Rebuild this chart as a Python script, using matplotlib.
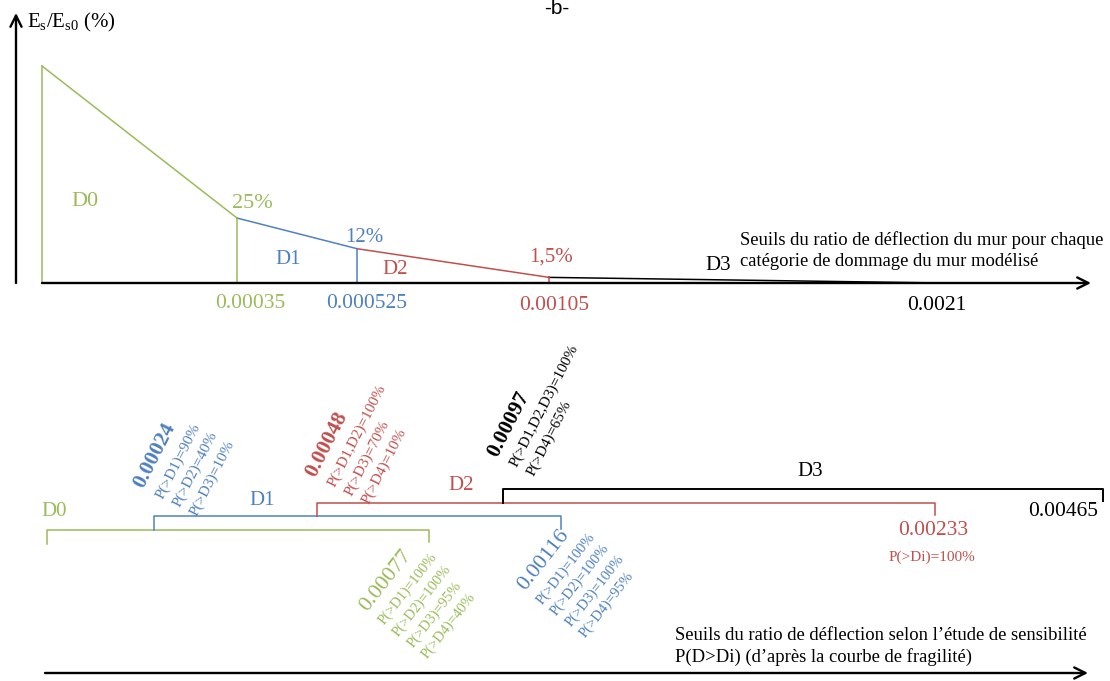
import numpy as np
import matplotlib
matplotlib.use('Agg')
import matplotlib.pyplot as plt

plt.rcParams['font.family'] = ['Liberation Serif', 'DejaVu Serif']
plt.rcParams['mathtext.fontset'] = 'custom'
plt.rcParams['mathtext.rm'] = 'Liberation Serif'
plt.rcParams['mathtext.it'] = 'Liberation Serif:italic'

GREEN, BLUE, RED, BLACK = '#9BBB59', '#4F81BD', '#C0504D', 'black'
class_colors = [GREEN, BLUE, RED, BLACK]
classes = ['D0', 'D1', 'D2', 'D3']

# upper diagram: E_s/E_s0 against wall deflection-ratio thresholds
wall_thresholds = ['0', '0.00035', '0.000525', '0.00105', '0.0021']
stiffness_pct = [100, 25, 12, 1.5, 0]
stiffness_labels = ['', '25%', '12%', '1,5%', '']

# lower diagram: thresholds from the sensitivity study
sens_start = ['0', '0.00024', '0.00048', '0.00097']
sens_end = ['0.00077', '0.00116', '0.00233', '0.00465']
start_probs = [[],
               ['P(>D1)=90%', 'P(>D2)=40%', 'P(>D3)=10%'],
               ['P(>D1,D2)=100%', 'P(>D3)=70%', 'P(>D4)=10%'],
               ['P(>D1,D2,D3)=100%', 'P(>D4)=65%']]
end_probs = [['P(>D1)=100%', 'P(>D2)=100%', 'P(>D3)=95%', 'P(>D4)=40%'],
             ['P(>D1)=100%', 'P(>D2)=100%', 'P(>D3)=100%', 'P(>D4)=95%'],
             ['P(>Di)=100%'],
             []]

# schematic layout (the diagram is not drawn to scale)
W, H = 1110, 681
wall_x = [42, 237, 357, 549, 941]
sens_x0 = [47, 154, 317, 503]
sens_x1 = [429, 561, 935, 1103]

fig = plt.figure(figsize=(W / 100, H / 100), dpi=100)

# ---------------- top panel ----------------
TOP_H = 320
ax = fig.add_axes([0, 1 - TOP_H / H, 1, TOP_H / H])
ax.set_axis_off()
ax.set_xlim(0, W)
P = 0.87
fwd = lambda y: np.sign(y) * np.abs(y) ** P
inv = lambda y: np.sign(y) * np.abs(y) ** (1 / P)
ax.set_yscale('function', functions=(fwd, inv))
k = 217 / 100 ** P
ax.set_ylim(inv(-(TOP_H - 283) / k), inv(283 / k))

lw = 1.1
for i in range(4):
    ax.plot(wall_x[i:i + 2], stiffness_pct[i:i + 2], color=class_colors[i], lw=lw)
ax.plot([wall_x[0], wall_x[0]], [0, stiffness_pct[0]], color=GREEN, lw=lw)
for i in range(1, 4):
    ax.plot([wall_x[i], wall_x[i]], [0, stiffness_pct[i]], color=class_colors[i - 1], lw=lw)

arrow = dict(arrowstyle='->,head_length=0.8,head_width=0.4', lw=1.7, color='black',
             shrinkA=0, shrinkB=0)
ax.annotate('', xy=(1091, 0), xytext=(wall_x[0], 0), arrowprops=arrow)
ax.annotate('', xy=(16, 1 - 13 / TOP_H), xycoords=('data', 'axes fraction'),
            xytext=(16, 1 - 283 / TOP_H), textcoords=('data', 'axes fraction'),
            arrowprops=arrow)
fig.text(27 / W, 1 - 22 / H, r'E$_\mathrm{s}$/E$_\mathrm{s0}$ (%)', fontsize=15,
         ha='left', va='center')
fig.text(557 / W, 1 - 14 / H, '-b-', fontsize=15, family='Liberation Sans',
         ha='center', va='baseline')

pct_off = [None, (15, 15), (7, 11), (2, 20)]
for i in range(1, 4):
    ax.annotate(stiffness_labels[i], xy=(wall_x[i], stiffness_pct[i]), xytext=pct_off[i],
                textcoords='offset pixels', ha='center', va='center',
                fontsize=16 if i == 1 else 15, color=class_colors[i - 1])

cls_off = [(43, 81), (51, 24), (38, 14), (169, 17)]
for i in range(4):
    ax.annotate(classes[i], xy=(wall_x[i], 0), xytext=cls_off[i], textcoords='offset pixels',
                ha='center', va='center', fontsize=16 if i == 0 else 15,
                color=class_colors[i])

thr_off = [None, (13, -20), (10, -20), (5, -22), (-4, -22)]
for i in range(1, 5):
    ax.annotate(wall_thresholds[i], xy=(wall_x[i], 0), xytext=thr_off[i],
                textcoords='offset pixels', ha='center', va='center', fontsize=15.5,
                color=class_colors[i - 1])

fig.text(740 / W, 1 - 240 / H, 'Seuils du ratio de déflection du mur pour chaque',
         fontsize=13.4, ha='left', va='center')
fig.text(740 / W, 1 - 262 / H, 'catégorie de dommage du mur modélisé',
         fontsize=13.4, ha='left', va='center')

# ---------------- bottom panel ----------------
BOT_H = H - TOP_H
ax2 = fig.add_axes([0, 0, 1, BOT_H / H])
ax2.set_axis_off()
ax2.set_xlim(0, W)
s = 13.67
ax2.set_ylim(-(H - 530) / s, (530 - TOP_H) / s)

for i in range(4):
    ax2.plot([sens_x0[i], sens_x0[i], sens_x1[i], sens_x1[i]], [i - 1, i, i, i - 0.9],
             color=class_colors[i], lw=1.4 if i == 3 else lw)

ax2.annotate('', xy=(1088, 8 / BOT_H), xycoords=('data', 'axes fraction'),
             xytext=(45, 8 / BOT_H), textcoords=('data', 'axes fraction'), arrowprops=arrow)

lab_off = [(7, 19), (108, 16), (144, 17), (307, 17)]
for i in range(4):
    ax2.annotate(classes[i], xy=(sens_x0[i], i), xytext=lab_off[i], textcoords='offset pixels',
                 ha='center', va='center', fontsize=15, color=class_colors[i])


def rotated_block(axis, xy, value, lines, color, angle, off, vsize, vweight, lsize,
                  gap=22, step=19):
    ux, uy = np.sin(np.radians(angle)), -np.cos(np.radians(angle))
    axis.annotate(value, xy=xy, xytext=off, textcoords='offset pixels', rotation=angle,
                  rotation_mode='anchor', ha='left', va='baseline', fontsize=vsize,
                  fontweight=vweight, color=color)
    for j, txt in enumerate(lines):
        d = gap + j * step
        axis.annotate(txt, xy=xy, xytext=(off[0] + d * ux, off[1] + d * uy),
                      textcoords='offset pixels', rotation=angle, rotation_mode='anchor',
                      ha='left', va='baseline', fontsize=lsize, color=color)


start_off = [None, (-11, 27), (-2, 25), (-6, 31)]
for i in range(1, 4):
    rotated_block(ax2, (sens_x0[i], i), sens_start[i], start_probs[i], class_colors[i],
                  63, start_off[i], 15.5, 'bold', 11)

end_off = [(-62, -82), (-36, -75)]
for i in range(2):
    rotated_block(ax2, (sens_x1[i], i), sens_end[i], end_probs[i], class_colors[i],
                  52, end_off[i], 16, 'normal', 10.5, gap=22, step=18)

ax2.annotate(sens_end[2], xy=(sens_x1[2], 2), xytext=(-2, -28), textcoords='offset pixels',
             ha='center', va='center', fontsize=15.5, color=RED)
ax2.annotate(end_probs[2][0], xy=(sens_x1[2], 2), xytext=(-3, -55), textcoords='offset pixels',
             ha='center', va='center', fontsize=11, color=RED)
ax2.annotate(sens_end[3], xy=(sens_x1[3], 3), xytext=(-40, -23), textcoords='offset pixels',
             ha='center', va='center', fontsize=15.5, color=BLACK)

fig.text(675 / W, 1 - 635 / H, 'Seuils du ratio de déflection selon l’étude de sensibilité',
         fontsize=13.4, ha='left', va='center')
fig.text(675 / W, 1 - 657 / H, 'P(D>Di) (d’après la courbe de fragilité)',
         fontsize=13.4, ha='left', va='center')

fig.savefig('out.png', dpi=100)
